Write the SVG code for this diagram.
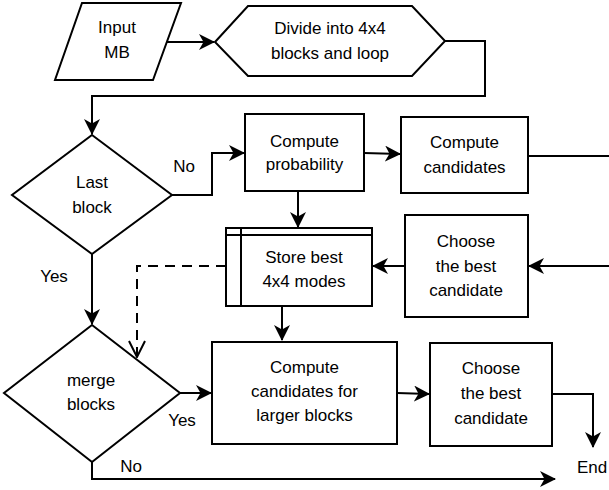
<svg xmlns="http://www.w3.org/2000/svg" width="609" height="490" viewBox="0 0 609 490">
<defs>
<style>
.s{fill:#fff;stroke:#000;stroke-width:2}
.c{fill:none;stroke:#000;stroke-width:2}
.d{fill:none;stroke:#000;stroke-width:2;stroke-dasharray:10 7}
text{font-family:"Liberation Sans",Arial,sans-serif;font-size:17px;fill:#000;text-anchor:middle}
</style>
<marker id="a" markerUnits="userSpaceOnUse" viewBox="0 0 16 16" refX="15" refY="8" markerWidth="16" markerHeight="16" orient="auto">
<path d="M0,0 L16,8 L0,16 L4.5,8 Z" fill="#000"/>
</marker>
<marker id="o" markerUnits="userSpaceOnUse" viewBox="-1 -1 18 18" refX="16" refY="8" markerWidth="18" markerHeight="18" orient="auto">
<path d="M0,0 L16,8 L0,16" fill="none" stroke="#000" stroke-width="2"/>
</marker>
</defs>
<g id="connectors">
<path class="c" d="M167,42 L214,42" marker-end="url(#a)"/>
<path class="c" d="M445,41 L485,41 L485,96 L92,96 L92,134" marker-end="url(#a)"/>
<path class="c" d="M172,195 L212,195 L212,153 L244,153" marker-end="url(#a)"/>
<path class="c" d="M364,153 L400,154" marker-end="url(#a)"/>
<path class="c" d="M528,156 L609,156"/>
<path class="c" d="M298,191 L298,227" marker-end="url(#a)"/>
<path class="c" d="M609,266 L529,266" marker-end="url(#a)"/>
<path class="c" d="M405,266 L373,266" marker-end="url(#a)"/>
<path class="d" d="M226,266 L137,266 L137,357" marker-end="url(#o)"/>
<path class="c" d="M92,254 L92,324" marker-end="url(#a)"/>
<path class="c" d="M282,306 L282,340" marker-end="url(#a)"/>
<path class="c" d="M180,393 L211,393" marker-end="url(#a)"/>
<path class="c" d="M397,393 L429,394" marker-end="url(#a)"/>
<path class="c" d="M552,394 L593,394 L593,447" marker-end="url(#a)"/>
<path class="c" d="M92,462 L92,479 L555,479" marker-end="url(#a)"/>
<text x="184" y="172">No</text>
<text x="54" y="282">Yes</text>
<text x="182" y="426">Yes</text>
<text x="131" y="472">No</text>
<text x="592" y="473">End</text>
</g>
<g id="input">
<path class="s" d="M82,3 L181,3 L153,80 L55,80 Z"/>
<text x="117" y="33">Input</text>
<text x="117" y="58">MB</text>
</g>
<g id="divide">
<path class="s" d="M215,42 L248,6 L412,6 L445,41 L412,76 L248,76 Z"/>
<text x="330" y="34">Divide into 4x4</text>
<text x="330" y="59">blocks and loop</text>
</g>
<g id="last">
<path class="s" d="M92,135 L172,195 L92,254 L12,195 Z"/>
<text x="92" y="188">Last</text>
<text x="92" y="213">block</text>
</g>
<g id="prob">
<rect class="s" x="245" y="114" width="119" height="77"/>
<text x="304.5" y="147">Compute</text>
<text x="304.5" y="170">probability</text>
</g>
<g id="cand">
<rect class="s" x="401" y="117" width="127" height="76"/>
<text x="464.5" y="148">Compute</text>
<text x="464.5" y="173">candidates</text>
</g>
<g id="choose1">
<rect class="s" x="405" y="215" width="123" height="102"/>
<text x="466" y="247">Choose</text>
<text x="466" y="272">the best</text>
<text x="466" y="296">candidate</text>
</g>
<g id="store">
<rect class="s" x="226" y="228" width="146" height="78"/>
<path class="c" d="M241,228 L241,306 M226,235 L372,235"/>
<text x="304" y="263">Store best</text>
<text x="304" y="287">4x4 modes</text>
</g>
<g id="merge">
<path class="s" d="M92,325 L180,393 L92,462 L4,393 Z"/>
<text x="91" y="386">merge</text>
<text x="91" y="410">blocks</text>
</g>
<g id="larger">
<rect class="s" x="212" y="342" width="185" height="102"/>
<text x="304.5" y="373">Compute</text>
<text x="304.5" y="397">candidates for</text>
<text x="304.5" y="421">larger blocks</text>
</g>
<g id="choose2">
<rect class="s" x="430" y="343" width="122" height="103"/>
<text x="491" y="374">Choose</text>
<text x="491" y="399">the best</text>
<text x="491" y="424">candidate</text>
</g>
</svg>
